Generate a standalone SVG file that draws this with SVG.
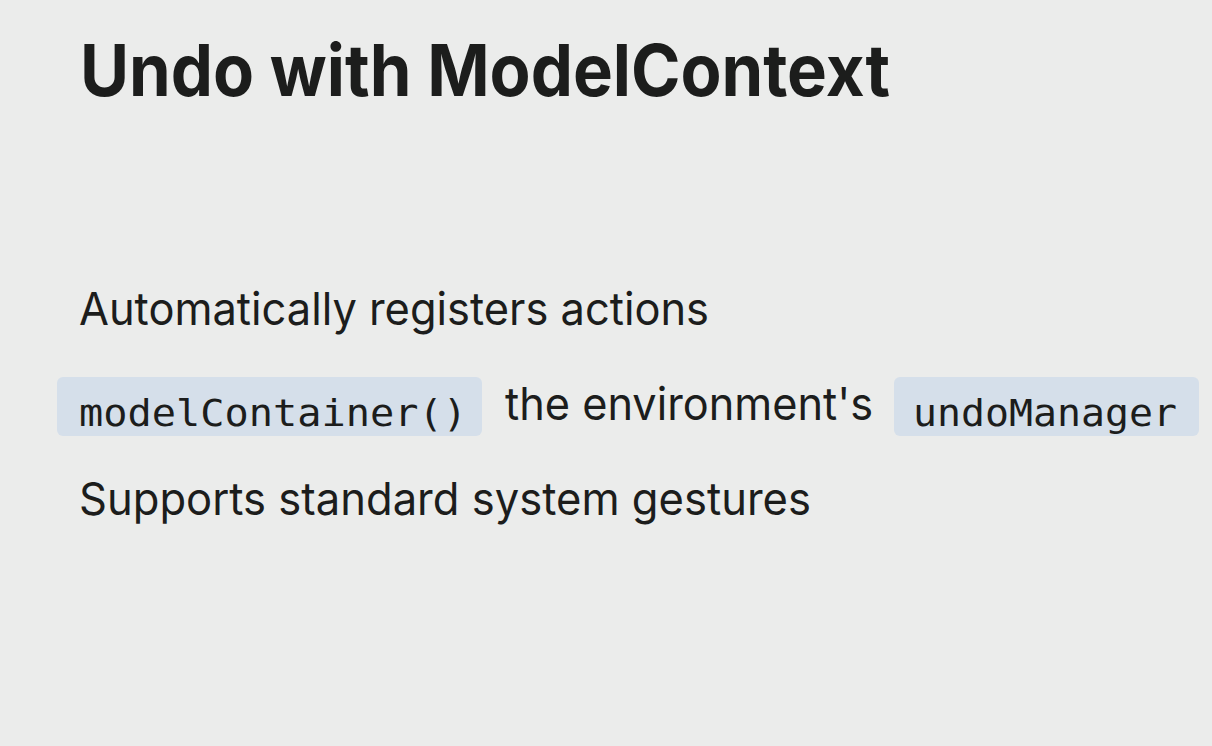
<svg xmlns="http://www.w3.org/2000/svg" width="1212" height="746" viewBox="0 0 1212 746">
<style>
.t{font-family:Inter,"Noto Sans","Liberation Sans",sans-serif;fill:#1c1d1c}
.title{font-size:72px;font-weight:700}
.body{font-size:45px;font-weight:400}
.code{font-family:"DejaVu Sans Mono","Liberation Mono",monospace;font-size:38px;fill:#1c1d1c}
.box{fill:#d5dfea}
</style>
<rect width="1212" height="746" fill="#ebeceb"/>
<text class="t title" x="80" y="96" textLength="810" lengthAdjust="spacingAndGlyphs">Undo with ModelContext</text>
<text class="t body" x="79" y="325" textLength="630" lengthAdjust="spacingAndGlyphs">Automatically registers actions</text>
<g id="code1">
<rect class="box" x="57" y="377" width="425" height="59" rx="6"/>
<text class="code" x="79" y="426" textLength="388" lengthAdjust="spacingAndGlyphs">modelContainer()</text>
</g>
<text class="t body" x="505" y="420" textLength="368" lengthAdjust="spacingAndGlyphs">the environment's</text>
<g id="code2">
<rect class="box" x="894" y="377" width="305" height="59" rx="6"/>
<text class="code" x="913" y="426" textLength="264" lengthAdjust="spacingAndGlyphs">undoManager</text>
</g>
<text class="t body" x="79" y="515" textLength="732" lengthAdjust="spacingAndGlyphs">Supports standard system gestures</text>
</svg>
